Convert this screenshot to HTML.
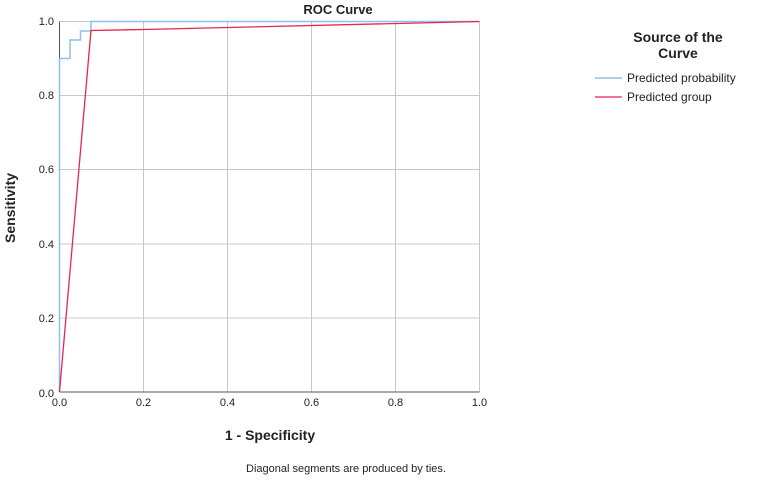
<!DOCTYPE html><html><head><style>body{margin:0;background:#fff}</style></head><body>
<svg width="761" height="477" xmlns="http://www.w3.org/2000/svg" font-family="Liberation Sans, sans-serif">
<rect width="761" height="477" fill="#fff"/>
<g stroke="#c8c8c8" stroke-width="1">
<line x1="143.5" y1="21.5" x2="143.5" y2="392"/><line x1="227.5" y1="21.5" x2="227.5" y2="392"/>
<line x1="311.5" y1="21.5" x2="311.5" y2="392"/><line x1="395.5" y1="21.5" x2="395.5" y2="392"/>
<line x1="479.5" y1="21.5" x2="479.5" y2="392"/>
<line x1="59.5" y1="21.5" x2="479.5" y2="21.5"/><line x1="59.5" y1="95.5" x2="479.5" y2="95.5"/>
<line x1="59.5" y1="169.5" x2="479.5" y2="169.5"/><line x1="59.5" y1="244" x2="479.5" y2="244"/>
<line x1="59.5" y1="318" x2="479.5" y2="318"/>
</g>
<g stroke="#555" stroke-width="1"><line x1="59.5" y1="21.5" x2="59.5" y2="392"/><line x1="59.5" y1="392" x2="479.5" y2="392"/></g>
<polyline fill="none" stroke="#8fbff0" stroke-width="1.5" points="59.5,392 59.5,58.5 70,58.5 70,40 80.5,40 80.5,31 91,31 91,21.5 479.5,21.5"/>
<polyline fill="none" stroke="#e8254f" stroke-width="1.3" points="59.5,392 91,30.5 143.5,29.5 479.5,21.5"/>
<g font-size="11" fill="#222">
<text x="54" y="25" text-anchor="end">1.0</text><text x="54" y="99" text-anchor="end">0.8</text>
<text x="54" y="173" text-anchor="end">0.6</text><text x="54" y="248" text-anchor="end">0.4</text>
<text x="54" y="322" text-anchor="end">0.2</text><text x="54" y="397" text-anchor="end">0.0</text>
<text x="59.5" y="406" text-anchor="middle">0.0</text><text x="143.5" y="406" text-anchor="middle">0.2</text>
<text x="227.5" y="406" text-anchor="middle">0.4</text><text x="311.5" y="406" text-anchor="middle">0.6</text>
<text x="395.5" y="406" text-anchor="middle">0.8</text><text x="479.5" y="406" text-anchor="middle">1.0</text>
</g>
<text x="338" y="14" font-size="13" font-weight="bold" text-anchor="middle" fill="#222">ROC Curve</text>
<text x="270" y="440" font-size="14" font-weight="bold" text-anchor="middle" fill="#222">1 - Specificity</text>
<text transform="translate(15,208) rotate(-90)" font-size="14" font-weight="bold" text-anchor="middle" fill="#222">Sensitivity</text>
<text x="346" y="472" font-size="11" text-anchor="middle" fill="#222">Diagonal segments are produced by ties.</text>
<text x="678" y="42" font-size="14" font-weight="bold" text-anchor="middle" fill="#222">Source of the</text>
<text x="678" y="58" font-size="14" font-weight="bold" text-anchor="middle" fill="#222">Curve</text>
<line x1="595" y1="78" x2="622" y2="78" stroke="#8fbff0" stroke-width="1.5"/>
<line x1="595" y1="97" x2="622" y2="97" stroke="#e8254f" stroke-width="1.3"/>
<text x="627" y="82" font-size="12" fill="#222">Predicted probability</text>
<text x="627" y="101" font-size="12" fill="#222">Predicted group</text>
</svg>
</body></html>
